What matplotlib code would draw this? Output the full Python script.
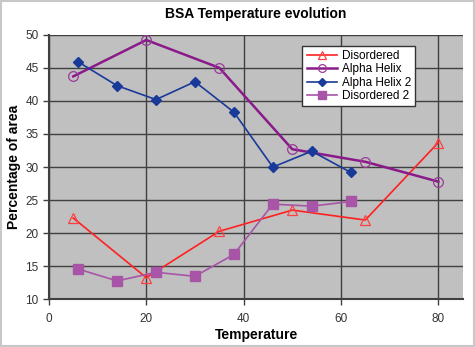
import matplotlib.pyplot as plt
from matplotlib.patches import Rectangle

plt.rcParams['font.family'] = ['Liberation Sans', 'DejaVu Sans']

# data
dis_x = [5, 20, 35, 50, 65, 80]
dis_y = [22.3, 13.3, 20.3, 23.5, 22.0, 33.7]

ah_x = [5, 20, 35, 50, 65, 80]
ah_y = [43.7, 49.2, 45.0, 32.7, 30.8, 27.8]

ah2_x = [6, 14, 22, 30, 38, 46, 54, 62]
ah2_y = [45.9, 42.3, 40.2, 42.9, 38.3, 30.0, 32.4, 29.2]

dis2_x = [6, 14, 22, 30, 38, 46, 54, 62]
dis2_y = [14.6, 12.8, 14.1, 13.5, 16.8, 24.4, 24.1, 24.8]

xticks = [0, 20, 40, 60, 80]
yticks = [10, 15, 20, 25, 30, 35, 40, 45, 50]

fig = plt.figure(figsize=(4.75, 3.47), dpi=100)
fig.patch.set_facecolor('white')
fig.patches.append(Rectangle((0.002, 0.003), 0.995, 0.994, transform=fig.transFigure,
                             fill=False, edgecolor='#c8c8c8', linewidth=1.5))

ax = fig.add_axes([0.103, 0.137, 0.872, 0.763])
ax.set_facecolor('#c0c0c0')

ax.plot(dis_x, dis_y, color='#ff2020', lw=1.2, marker='^', ms=7,
        mfc='none', mec='#ff4040', mew=0.9, label='Disordered', zorder=3)
ax.plot(ah_x, ah_y, color='#8a1a8a', lw=1.8, marker='o', ms=7,
        mfc='none', mec='#9a3a9a', mew=0.9, label='Alpha Helix', zorder=3)
ax.plot(ah2_x, ah2_y, color='#1a3a9a', lw=1.2, marker='D', ms=5.5,
        mfc='#1a3a9a', mec='#1a3a9a', label='Alpha Helix 2', zorder=3)
ax.plot(dis2_x, dis2_y, color='#a855a8', lw=1.2, marker='s', ms=7,
        mfc='#a855a8', mec='#a855a8', label='Disordered 2', zorder=3)

ax.set_xlim(0, 85.1)
ax.set_ylim(10, 50)
ax.set_xticks(xticks)
ax.set_yticks(yticks)
ax.grid(True, color='#404040', lw=1.0)
ax.set_axisbelow(True)
for s in ['top', 'right']:
    ax.spines[s].set_visible(False)
ax.spines['left'].set_color('#404040')
ax.spines['bottom'].set_color('#404040')
ax.spines['left'].set_linewidth(1.5)
ax.spines['bottom'].set_linewidth(1.5)
ax.tick_params(axis='both', labelsize=8.5, colors='#404040', labelcolor='#333333',
               length=4, width=1)
ax.tick_params(axis='x', pad=6)

ax.set_title('BSA Temperature evolution', fontsize=10, fontweight='bold', pad=12)
ax.set_xlabel('Temperature', fontsize=10, fontweight='bold', labelpad=2)
ax.set_ylabel('Percentage of area', fontsize=10, fontweight='bold', labelpad=3)

leg = ax.legend(loc='upper left', bbox_to_anchor=(0.612, 0.958),
                prop={'size': 8.5}, markerscale=0.8,
                frameon=True, fancybox=False, framealpha=1, edgecolor='#333333',
                borderpad=0.35, labelspacing=0.12, handlelength=2.6, handletextpad=0.4,
                borderaxespad=0)
leg.get_frame().set_linewidth(1.0)

fig.savefig('out.png', dpi=100, facecolor='white')
